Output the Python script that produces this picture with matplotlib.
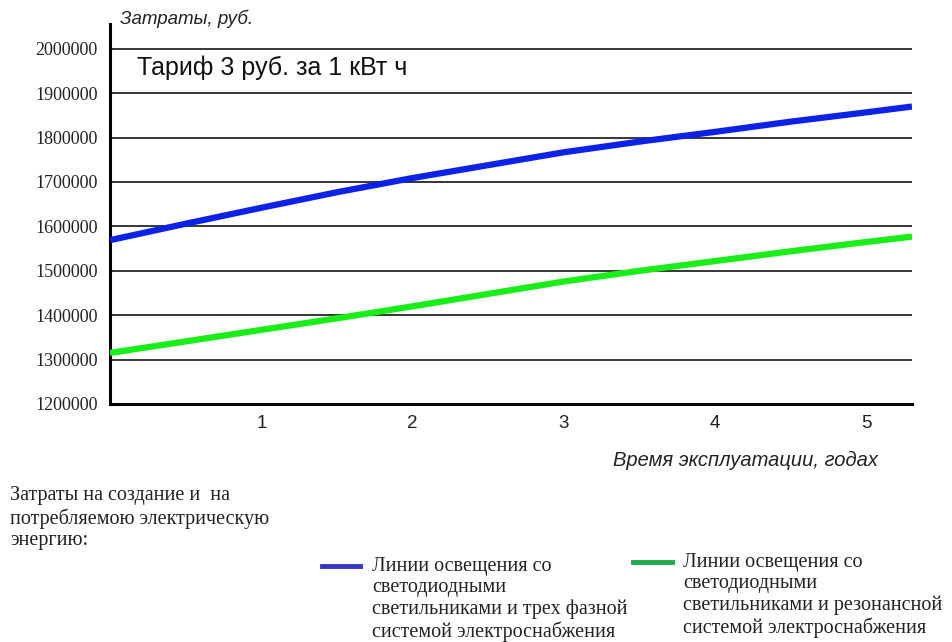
import matplotlib
matplotlib.use("Agg")
import matplotlib.pyplot as plt
from matplotlib.lines import Line2D

# Data
years = [0, 0.5, 1, 1.5, 2, 2.5, 3, 3.5, 4, 4.5, 5, 5.3]
three_phase = [1569000, 1606000, 1642000, 1677000, 1709000, 1738000, 1767000, 1791000,
               1813000, 1836000, 1857000, 1870000]
resonant = [1315000, 1341000, 1367000, 1393000, 1420000, 1448000, 1476000, 1500000,
            1522000, 1544000, 1565000, 1577000]
y_ticks = [1200000, 1300000, 1400000, 1500000, 1600000, 1700000, 1800000, 1900000, 2000000]
x_ticks = [1, 2, 3, 4, 5]
label_three = "Линии освещения со\nсветодиодными\nсветильниками и трех фазной\nсистемой электроснабжения"
label_reso = "Линии освещения со\nсветодиодными\nсветильниками и резонансной\nсистемой электроснабжения"

W, H = 952, 642
fig = plt.figure(figsize=(W / 100, H / 100), dpi=100)
ax = fig.add_axes([110 / W, 1 - 404 / H, 802 / W, 380 / H])

ax.set_xlim(0, 5.3)
ax.set_ylim(1200000, 1200000 + 380 / 44.4 * 100000)

for v in y_ticks[1:]:
    ax.axhline(v, color="black", lw=1.1, zorder=1)

ax.plot(years, three_phase, color="#0c22e6", lw=4.5, solid_capstyle="butt",
        solid_joinstyle="round", zorder=3)
ax.plot(years, resonant, color="#19ee19", lw=4.5, solid_capstyle="butt",
        solid_joinstyle="round", zorder=3)

for s in ["top", "right"]:
    ax.spines[s].set_visible(False)
ax.spines["left"].set_linewidth(2.2)
ax.spines["bottom"].set_linewidth(2.2)

ax.set_yticks(y_ticks)
ax.set_yticklabels([str(v) for v in y_ticks], family="Liberation Serif", fontsize=13, color="#222222")
ax.set_xticks(x_ticks)
ax.set_xticklabels([str(v) for v in x_ticks], family="Liberation Sans", fontsize=13.5, color="#222222")
ax.tick_params(axis="both", length=0)
ax.tick_params(axis="x", pad=8)
ax.tick_params(axis="y", pad=9)

# Texts
fig.text(120 / W, 1 - 19 / H, "Затраты, руб.", family="Liberation Sans", style="italic",
         fontsize=13.5, va="center", ha="left", color="#222222")
fig.text(137 / W, 1 - 68 / H, "Тариф 3 руб. за 1 кВт ч", family="Liberation Sans",
         fontsize=18, va="center", ha="left", color="#111111")
fig.text(878 / W, 1 - 460 / H, "Время эксплуатации, годах", family="Liberation Sans",
         style="italic", fontsize=14.5, va="center", ha="right", color="#222222")
fig.text(10 / W, 1 - 486 / H, "Затраты на создание и  на\nпотребляемою электрическую\nэнергию:",
         family="Liberation Serif", fontsize=14.5, va="top", ha="left", color="#222222",
         linespacing=1.2)

# Legend (manual)
fig.add_artist(Line2D([322 / W, 360 / W], [1 - 566 / H, 1 - 566 / H], color="#3535c8",
                      lw=3.5, transform=fig.transFigure))
fig.text(372 / W, 1 - 557 / H, label_three, family="Liberation Serif", fontsize=14.5,
         va="top", ha="left", color="#222222", linespacing=1.15)
fig.add_artist(Line2D([633 / W, 672 / W], [1 - 562 / H, 1 - 562 / H], color="#22a84a",
                      lw=3.5, transform=fig.transFigure))
fig.text(683 / W, 1 - 553 / H, label_reso, family="Liberation Serif", fontsize=14.5,
         va="top", ha="left", color="#222222", linespacing=1.15)

fig.savefig("out.png", dpi=100, facecolor="white")
